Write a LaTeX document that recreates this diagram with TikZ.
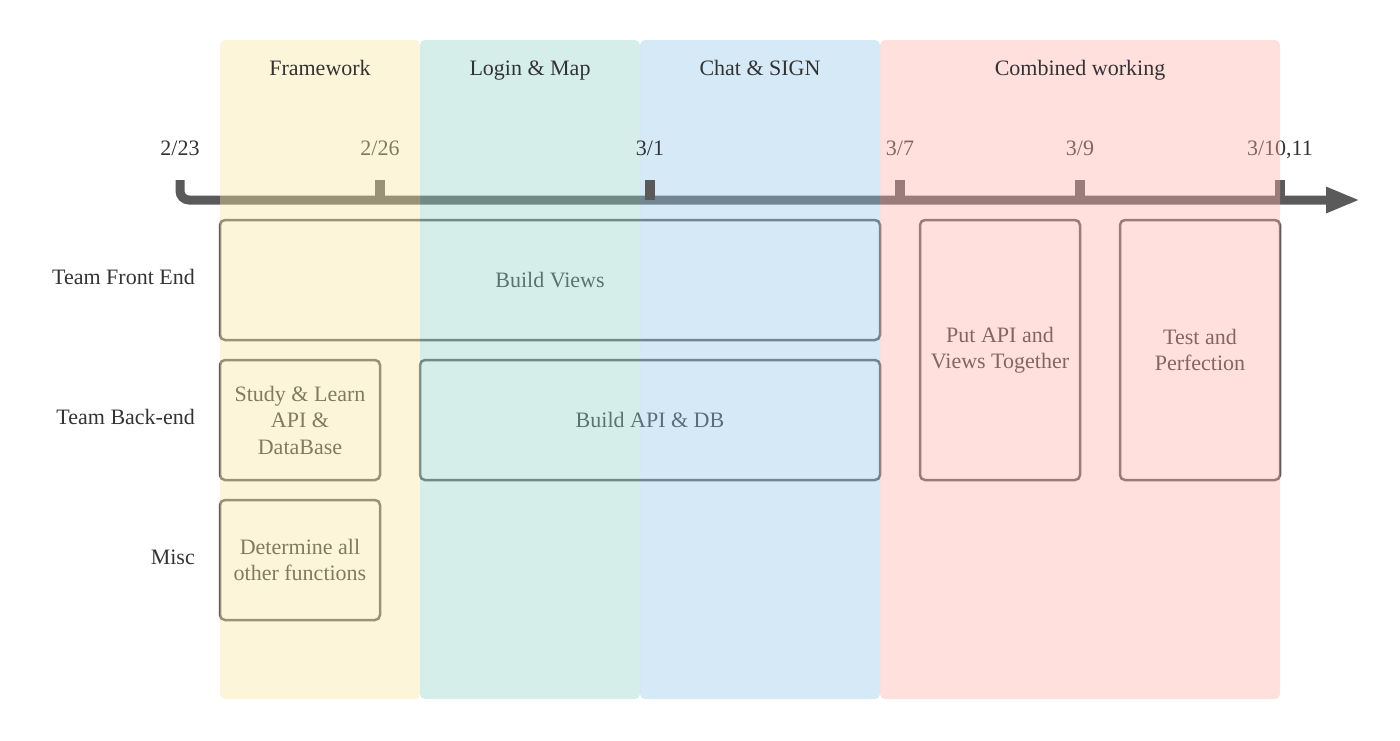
\documentclass[tikz,border=0pt]{standalone}
\usepackage{fontspec}
\setmainfont{Liberation Serif}
\usetikzlibrary{arrows.meta,positioning}
\definecolor{PlanInk}{HTML}{333333}
\definecolor{PlanAxis}{HTML}{5A5A5A}
\definecolor{PlanYellow}{RGB}{250,230,162}
\definecolor{PlanGreen}{RGB}{150,212,200}
\definecolor{PlanBlue}{RGB}{150,202,232}
\definecolor{PlanPink}{RGB}{255,177,170}

\begin{document}
\begin{tikzpicture}[
  x=1pt,y=-1pt,
  txt/.style={font=\fontsize{22}{26.5}\selectfont,text=PlanInk,inner sep=0pt,align=center},
  lbl/.style={txt,text height=1.5ex,text depth=.3ex},
  task/.style={txt,draw=PlanAxis,line width=2.5pt,rounded corners=5pt},
  band/.style={rounded corners=5pt,fill opacity=0.4},
  axis/.style={draw=PlanAxis,line width=9pt,rounded corners=9pt},
  tick/.style={draw=PlanAxis,line width=10pt},
]
\useasboundingbox (0,0) rectangle (1400,740);

% rows
\node[lbl,anchor=east] (front) at (195,282) {Team Front End};
\node[lbl,anchor=east] (back) at (195,422) {Team Back-end};
\node[lbl,anchor=east] (misc) at (195,562) {Misc};

% tasks
\node[task,minimum width=660pt,minimum height=120pt] (views) at (550,280) {Build Views};
\node[task,minimum width=160pt,minimum height=120pt] (study) at (300,420) {Study \& Learn\\API \&\\DataBase};
\node[task,minimum width=460pt,minimum height=120pt] (apidb) at (650,420) {Build API \& DB};
\node[task,minimum width=160pt,minimum height=120pt] (funcs) at (300,560) {Determine all\\other functions};
\node[task,minimum width=160pt,minimum height=260pt] (merge) at (1000,350) {Put API and\\Views Together};
\node[task,minimum width=160pt,minimum height=260pt] (perfect) at (1200,350) {Test and\\Perfection};

% timeline
\coordinate (t0) at (180,180);
\coordinate (t0b) at (180,200);
\coordinate (tend) at (1360,200);
\draw[axis,-{Triangle[length=34pt,width=24pt]}] (t0) -- (t0b) -- (tend);
\draw[tick] (380,180) -- (380,200);
\draw[tick] (900,180) -- (900,200);
\draw[tick] (1080,180) -- (1080,200);
\draw[tick] (1280,180) -- (1280,200);

\node[lbl] (d223) at (180,153) {2/23};
\node[lbl] (d226) at (380,153) {2/26};
\node[lbl] (d307) at (900,153) {3/7};
\node[lbl] (d309) at (1080,153) {3/9};
\node[lbl] (d310) at (1280,153) {3/10,11};

% phases
\fill[band,PlanYellow] (220,40) rectangle (420,699);
\fill[band,PlanGreen] (420,40) rectangle (640,699);
\fill[band,PlanBlue] (640,40) rectangle (880,699);
\fill[band,PlanPink] (880,40) rectangle (1280,699);

\node[lbl] (framework) at (320,73) {Framework};
\node[lbl] (loginmap) at (530,73) {Login \& Map};
\node[lbl] (chatsign) at (760,73) {Chat \& SIGN};
\node[lbl] (combined) at (1080,73) {Combined working};

\draw[tick] (650,180) -- (650,200);
\node[lbl] (d301) at (650,153) {3/1};
\end{tikzpicture}
\end{document}
